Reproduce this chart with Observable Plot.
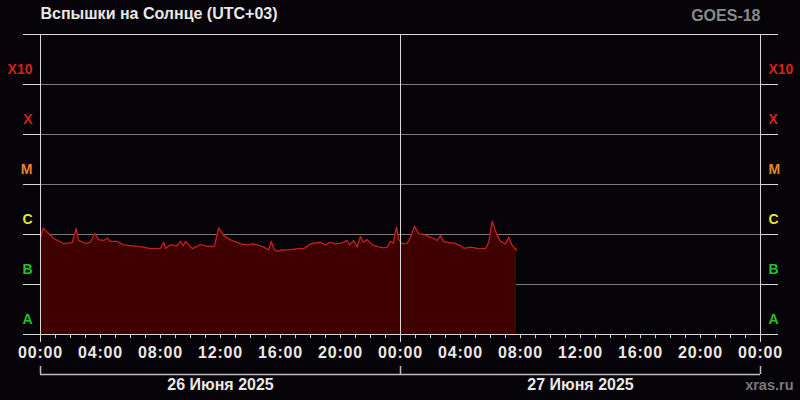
<!DOCTYPE html>
<html><head><meta charset="utf-8">
<script src="https://cdn.jsdelivr.net/npm/d3@7"></script>
<script src="https://cdn.jsdelivr.net/npm/@observablehq/plot@0.6"></script>
<style>
html,body{margin:0;padding:0;background:#050307;}
svg{display:block;}
</style></head>
<body><div id="chart"></div>
<script>
// minutes since 2025-06-26 00:00 (UTC+03)
const minutes = [
  0, 11, 27, 52, 92, 107, 127, 143, 152, 180,
  200, 217, 232, 252, 267, 280, 307, 332, 387, 412,
  440, 480, 493, 500, 520, 547, 560, 571, 581, 607,
  627, 640, 667, 691, 696, 713, 733, 760, 800, 827,
  853, 893, 913, 923, 933, 947, 967, 1000, 1040, 1053,
  1080, 1120, 1140, 1160, 1180, 1207, 1227, 1237, 1253, 1267,
  1280, 1291, 1307, 1327, 1347, 1373, 1387, 1400, 1411, 1424,
  1433, 1447, 1467, 1480, 1496, 1513, 1533, 1560, 1587, 1600,
  1613, 1640, 1653, 1680, 1693, 1720, 1747, 1780, 1793, 1807,
  1824, 1840, 1860, 1873, 1887, 1904
];
// X-ray flux, W/m²
const flux = [
  8.3e-7, 1.34e-6, 1.11e-6, 8.4e-7, 6.6e-7, 6.7e-7, 6.9e-7, 1.32e-6, 7.6e-7, 6.6e-7,
  7.0e-7, 1.06e-6, 7.9e-7, 7.6e-7, 8.4e-7, 7.3e-7, 7.3e-7, 6.2e-7, 5.8e-7, 5.6e-7,
  5.2e-7, 5.3e-7, 7.0e-7, 5.3e-7, 6.2e-7, 6.0e-7, 7.3e-7, 6.0e-7, 7.3e-7, 5.2e-7,
  5.8e-7, 6.3e-7, 5.8e-7, 5.75e-7, 6.0e-7, 1.36e-6, 9.5e-7, 7.8e-7, 6.5e-7, 6.2e-7,
  6.5e-7, 5.6e-7, 4.9e-7, 7.3e-7, 5.2e-7, 4.6e-7, 4.9e-7, 5.0e-7, 5.3e-7, 5.2e-7,
  6.5e-7, 7.0e-7, 6.2e-7, 7.0e-7, 6.5e-7, 6.8e-7, 7.6e-7, 6.2e-7, 7.6e-7, 5.6e-7,
  9.1e-7, 7.0e-7, 7.9e-7, 6.2e-7, 5.75e-7, 5.4e-7, 5.6e-7, 7.3e-7, 6.7e-7, 1.40e-6,
  7.9e-7, 6.5e-7, 6.7e-7, 8.8e-7, 1.47e-6, 1.03e-6, 1.0e-6, 8.8e-7, 7.6e-7, 9.5e-7,
  7.2e-7, 6.8e-7, 6.8e-7, 6.0e-7, 5.3e-7, 5.6e-7, 5.3e-7, 5.2e-7, 7.0e-7, 1.85e-6,
  1.03e-6, 7.3e-7, 6.5e-7, 8.8e-7, 6.0e-7, 4.9e-7
];
const classNames = ["A", "B", "C", "M", "X", "X10"];
const classFloor = [1e-8, 1e-7, 1e-6, 1e-5, 1e-4, 1e-3];
const classColors = ["#22c322", "#22c322", "#e6e632", "#e8862a", "#d8201e", "#d8201e"];
const tickLabels = ["00:00","04:00","08:00","12:00","16:00","20:00","00:00","04:00","08:00","12:00","16:00","20:00","00:00"];
const dayLabels = ["26 Июня 2025", "27 Июня 2025"];
const title = "Вспышки на Солнце (UTC+03)";
const satellite = "GOES-18";
const site = "xras.ru";

const base = Date.UTC(2025, 5, 26);
const H = 3600e3;
const d0 = new Date(base), d1 = new Date(base + 24*H), d2 = new Date(base + 48*H);
const data = minutes.map((m, i) => ({t: new Date(base + m*60e3), f: flux[i]}));
const classes = classNames.map((n, i) => ({name: n, y: classFloor[i]*2, color: classColors[i]}));
const ticks4 = tickLabels.map((l, i) => ({t: new Date(base + i*4*H), label: l}));
const hours = d3.utcHour.range(d0, new Date(+d2 + 1));
const days = dayLabels.map((l, i) => ({t: new Date(base + (i*24 + 12)*H), label: l}));
const innerEdges = [1e-7, 1e-6, 1e-5, 1e-4, 1e-3];
const outerEdges = [1e-8, 1e-2];
const allEdges = [1e-8, 1e-7, 1e-6, 1e-5, 1e-4, 1e-3, 1e-2];
const font = "Liberation Sans, Arial, sans-serif";
const white = "#d8d8d8";

const chart = Plot.plot({
  width: 800, height: 400,
  marginLeft: 40, marginRight: 40, marginTop: 34, marginBottom: 66,
  style: {background: "#050307", fontFamily: font},
  x: {type: "utc", domain: [d0, d2], axis: null},
  y: {type: "log", domain: [1e-8, 1e-2], axis: null},
  marks: [
    Plot.ruleY(innerEdges, {x1: d0, x2: d2, stroke: "#7a7a7a", strokeWidth: 1}),
    Plot.areaY(data, {x: "t", y1: 1e-8, y2: "f", fill: "#3e0000"}),
    Plot.lineY(data, {x: "t", y: "f", stroke: "#c4201e", strokeWidth: 1.3}),
    Plot.axisY(allEdges, {anchor: "left", tickSize: 17, tickFormat: () => "", stroke: white, label: null}),
    Plot.axisY(allEdges, {anchor: "right", tickSize: 17, tickFormat: () => "", stroke: white, label: null}),
    Plot.ruleY(outerEdges, {x1: d0, x2: d2, stroke: white, strokeWidth: 1}),
    Plot.ruleX([d0, d1, d2], {y1: 1e-8, y2: 1e-2, stroke: white, strokeWidth: 1}),
    Plot.axisX(hours, {anchor: "bottom", tickSize: 4, tickFormat: () => "", stroke: white, label: null}),
    Plot.axisX([d0, d1, d2], {anchor: "bottom", tickSize: 8, tickFormat: () => "", stroke: white, label: null}),
    Plot.text(ticks4, {x: "t", text: "label", frameAnchor: "bottom", dy: 23, fill: "#e8e8e8", fontSize: 16, fontWeight: "bold", className: "hourlab"}),
    Plot.ruleY([10 ** -8.8], {x1: d0, x2: d2, stroke: "#bdbdbd", strokeWidth: 1.5}),
    Plot.ruleX([d0, d1, d2], {y1: 10 ** -8.64, y2: 10 ** -8.8, stroke: "#bdbdbd", strokeWidth: 1.5}),
    Plot.text(days, {x: "t", text: "label", frameAnchor: "bottom", dy: 55, fill: "#e8e8e8", fontSize: 16, fontWeight: "bold"}),
    Plot.text(classes, {y: "y", text: "name", fill: "color", frameAnchor: "left", textAnchor: "end", dx: -8, fontSize: 14, fontWeight: "bold"}),
    Plot.text(classes, {y: "y", text: "name", fill: "color", frameAnchor: "right", textAnchor: "start", dx: 8, fontSize: 14, fontWeight: "bold"}),
    Plot.text([title], {frameAnchor: "top-left", dy: -27, textAnchor: "start", fill: "#e8e8e8", fontSize: 16, fontWeight: "bold"}),
    Plot.text([satellite], {frameAnchor: "top-right", dy: -25, textAnchor: "end", fill: "#8a8a8a", fontSize: 16, fontWeight: "bold"}),
    Plot.text([site], {frameAnchor: "bottom-right", dy: 55, dx: 33, textAnchor: "end", fill: "#7a7a7a", fontSize: 14.5, fontWeight: "bold"})
  ]
});
d3.select(chart).selectAll(".hourlab text").style("letter-spacing", "0.8px");
document.getElementById("chart").appendChild(chart);
</script></body></html>
